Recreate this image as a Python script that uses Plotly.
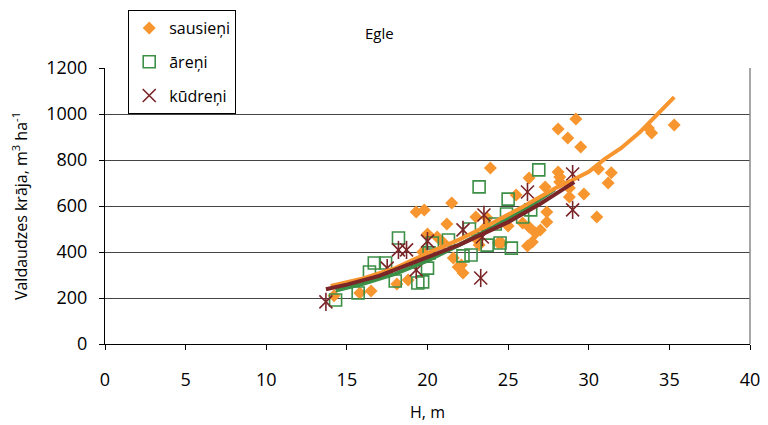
import plotly.graph_objects as go

# --- data ---
saus_h = [14.2, 15.8, 16.5, 18.1, 18.8, 19.3, 19.8, 21.5, 21.2, 20.0, 21.6, 21.9, 22.2, 21.0, 20.6,
          19.7, 23.7, 24.4, 23.1, 23.9, 23.0, 23.6, 23.2, 24.6, 25.0, 25.9, 25.5, 26.3, 27.3, 27.4,
          27.4, 26.3, 27.0, 26.7, 26.5, 26.2, 28.1, 28.2, 28.2, 28.8, 28.8, 29.7, 28.1, 28.7, 29.2,
          29.5, 30.5, 31.4, 31.2, 30.6, 33.7, 33.9, 35.3, 22.1]
saus_v = [210, 222, 230, 261, 278, 574, 583, 613, 522, 478, 374, 335, 309, 439, 465,
          400, 548, 439, 452, 765, 552, 509, 430, 439, 513, 526, 648, 722, 683, 574,
          530, 509, 496, 483, 443, 426, 748, 726, 704, 678, 639, 652, 935, 896, 978,
          857, 552, 745, 700, 761, 939, 917, 952, 343]

aren_h = [14.3, 15.7, 16.4, 16.7, 17.4, 18.0, 18.2, 19.4, 19.7, 20.0, 20.1, 20.3, 21.3, 22.2,
          22.6, 22.7, 23.2, 23.7, 24.2, 24.5, 24.9, 25.0, 25.2, 25.9, 26.4, 26.9]
aren_v = [191, 222, 313, 352, 352, 274, 461, 265, 270, 330, 396, 439, 452, 383,
          500, 387, 683, 430, 522, 439, 565, 630, 417, 552, 583, 757]

kudr_h = [13.7, 17.5, 18.2, 18.7, 19.3, 20.0, 22.2, 23.3, 23.4, 23.5, 26.2, 29.0, 29.0]
kudr_v = [183, 330, 409, 409, 322, 447, 496, 287, 465, 561, 661, 739, 583]

# trend curves
saus_fit_h = [14.0, 16.0, 18.0, 20.0, 22.0, 24.0, 26.0, 28.0, 29.0, 30.0, 31.0, 32.0, 33.2, 34.2, 35.3]
saus_fit_v = [252, 285, 330, 395, 455, 525, 600, 680, 713, 749, 805, 851, 923, 996, 1073]

aren_fit_h = [14.3, 16.0, 18.0, 20.0, 22.0, 24.0, 26.0, 27.9]
aren_fit_v = [232, 262, 305, 362, 432, 505, 585, 672]

kudr_fit_h = [13.7, 15.0, 17.0, 19.5, 22.0, 25.0, 27.0, 29.1]
kudr_fit_v = [238, 258, 296, 362, 432, 530, 610, 704]

x_ticks = [0, 5, 10, 15, 20, 25, 30, 35, 40]
y_ticks = [0, 200, 400, 600, 800, 1000, 1200]

ORANGE = "#F7952F"
GREEN = "#3C8F47"
BROWN = "#7A2528"
FONT = "Open Sans"

fig = go.Figure()

fig.add_trace(go.Scatter(x=saus_h, y=saus_v, mode="markers", name="sausieņi",
                         legendgroup="s",
                         marker=dict(symbol="diamond", size=10, color=ORANGE, line=dict(width=0))))
fig.add_trace(go.Scatter(x=aren_h, y=aren_v, mode="markers", name="āreņi",
                         legendgroup="a",
                         marker=dict(symbol="square-open", size=12, color=GREEN, line=dict(width=1.6))))
fig.add_trace(go.Scatter(x=kudr_h, y=kudr_v, mode="markers", name="kūdreņi",
                         legendgroup="k",
                         marker=dict(symbol="x-thin-open", size=13, color=BROWN, line=dict(width=1.6, color=BROWN))))
fig.add_trace(go.Scatter(x=kudr_h, y=kudr_v, mode="markers", name="kūdreņi",
                         legendgroup="k", showlegend=False,
                         marker=dict(symbol="line-ns-open", size=13, color=BROWN, line=dict(width=1.6, color=BROWN))))

fig.add_trace(go.Scatter(x=aren_fit_h, y=aren_fit_v, mode="lines", showlegend=False,
                         line=dict(color=GREEN, width=4)))
fig.add_trace(go.Scatter(x=saus_fit_h, y=saus_fit_v, mode="lines", showlegend=False,
                         line=dict(color=ORANGE, width=4)))
fig.add_trace(go.Scatter(x=kudr_fit_h, y=kudr_fit_v, mode="lines", showlegend=False,
                         line=dict(color=BROWN, width=4)))

# the page body adds an 8px offset, so the figure is sized to fit the window after it
fig.update_layout(
    width=760, height=417,
    margin=dict(l=97, r=18, t=60, b=81, autoexpand=False),
    paper_bgcolor="white", plot_bgcolor="white",
    font=dict(family=FONT, size=16, color="black"),
    showlegend=True,
    legend=dict(x=0.036, y=1.21, xanchor="left", yanchor="top",
                bordercolor="black", borderwidth=1, bgcolor="white",
                traceorder="grouped", tracegroupgap=10,
                font=dict(family=FONT, size=16)),
    annotations=[dict(text="Egle", x=0.426, y=1.169, xref="paper", yref="paper",
                      showarrow=False, font=dict(family=FONT, size=15))],
    shapes=[dict(type="line", xref="paper", yref="paper", x0=1, x1=1, y0=0, y1=1,
                 line=dict(color="#8a8a8a", width=1.5))],
)

fig.update_xaxes(range=[0, 40], tickvals=x_ticks, ticktext=[str(v) for v in x_ticks],
                 showgrid=False, zeroline=False, automargin=False,
                 showline=True, linecolor="black", linewidth=1,
                 ticks="outside", ticklen=5, tickcolor="black",
                 ticklabelstandoff=14,
                 tickfont=dict(size=18),
                 title=dict(text="H, m", font=dict(size=16), standoff=17))
fig.update_yaxes(range=[0, 1200], tickvals=y_ticks, ticktext=[str(v) for v in y_ticks],
                 showgrid=True, gridcolor="#444444", gridwidth=1, zeroline=False, automargin=False,
                 showline=True, linecolor="black", linewidth=1,
                 ticks="outside", ticklen=5, tickcolor="black",
                 ticklabelstandoff=8,
                 tickfont=dict(size=18),
                 title=dict(text="Valdaudzes krāja, m<sup>3</sup> ha<sup>-1</sup>",
                            font=dict(size=16), standoff=24))

fig.write_html("out.html")
